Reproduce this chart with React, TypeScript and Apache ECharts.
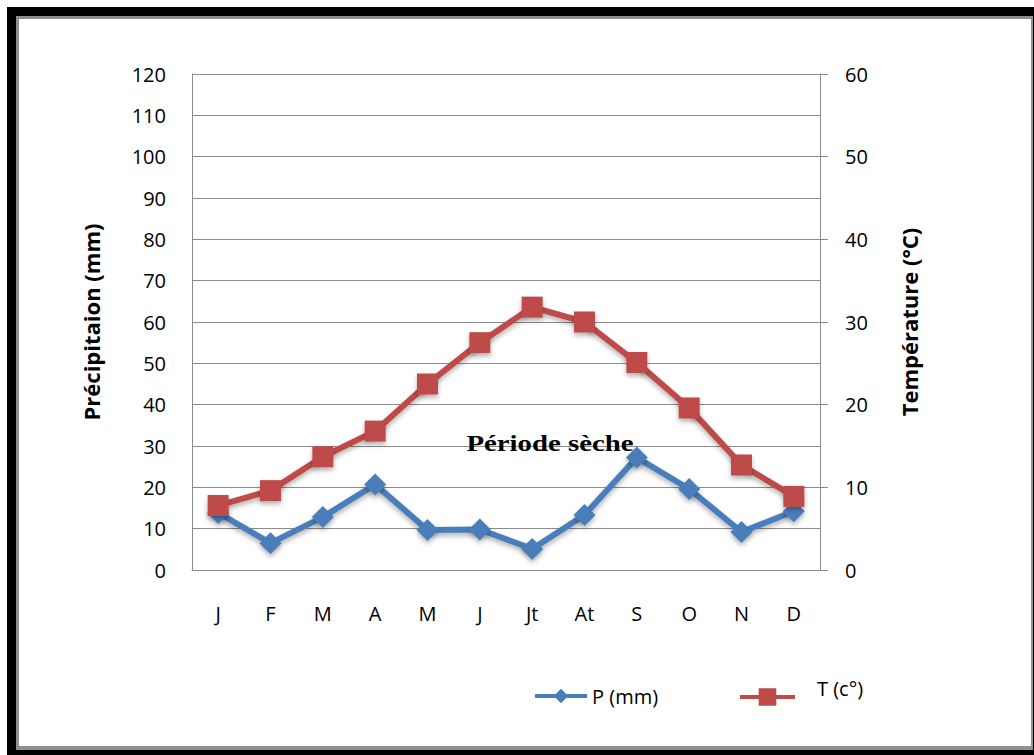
import React, { useEffect, useRef } from "react";
import * as echarts from "echarts";

const months = ["J", "F", "M", "A", "M", "J", "Jt", "At", "S", "O", "N", "D"];
const precipitation = [13.8, 6.5, 12.8, 20.7, 9.7, 9.8, 5.1, 13.3, 27.2, 19.6, 9.2, 14.2];
const temperature = [7.8, 9.6, 13.7, 16.8, 22.5, 27.5, 31.8, 30.0, 25.1, 19.6, 12.7, 8.9];
const leftTicks = { min: 0, max: 120, interval: 10 };
const rightTicks = { min: 0, max: 60, interval: 10 };

const BLUE = "#4a7ebb";
const RED = "#be4b48";
const GRID = "#8c8c8c";
const SANS = "'Open Sans', 'DejaVu Sans', sans-serif";

export default function App() {
  const ref = useRef<HTMLDivElement>(null);
  useEffect(() => {
    document.body.style.margin = "0";
    const chart = echarts.init(ref.current!, null, { renderer: "svg" });
    chart.setOption({
      animation: false,
      backgroundColor: "#ffffff",
      textStyle: { fontFamily: SANS },
      grid: { left: 192, top: 74, right: 214, bottom: 185, containLabel: false },
      graphic: [
        { type: "rect", z: -100, shape: { x: 7, y: 7, width: 1100, height: 1100 }, style: { fill: "#000" } },
        { type: "rect", z: -99, shape: { x: 16, y: 16, width: 1017, height: 734 }, style: { fill: "#8f8f8f" } },
        { type: "rect", z: -98, shape: { x: 19, y: 19, width: 1012, height: 727 }, style: { fill: "#fff" } },
        {
          type: "text",
          z: 10,
          x: 550,
          y: 443,
          scaleX: 1.2,
          style: {
            text: "Période sèche",
            font: "bold 24px 'Liberation Serif', 'Times New Roman', serif",
            fill: "#000",
            align: "center",
            verticalAlign: "middle",
          },
        },
      ],
      legend: [
        {
          data: ["P (mm)"],
          left: 533,
          top: 686,
          itemWidth: 52,
          itemHeight: 18,
          padding: 0,
          lineStyle: { width: 4 },
          textStyle: { fontFamily: SANS, fontSize: 20, color: "#000" },
        },
        {
          data: ["T (c°)"],
          left: 738,
          top: 678,
          itemWidth: 55,
          itemHeight: 22,
          padding: 0,
          lineStyle: { width: 4 },
          formatter: "{t|{name}}",
          textStyle: {
            fontFamily: SANS,
            fontSize: 20,
            color: "#000",
            rich: { t: { fontFamily: SANS, fontSize: 20, color: "#000", padding: [0, 0, 18, 17] } },
          },
        },
      ],
      xAxis: {
        type: "category",
        data: months,
        boundaryGap: true,
        axisLine: { show: true, lineStyle: { color: GRID, width: 1 } },
        axisTick: { show: false },
        axisLabel: { fontSize: 20, color: "#000", margin: 33, fontFamily: SANS },
        splitLine: { show: false },
      },
      yAxis: [
        {
          type: "value",
          position: "left",
          ...leftTicks,
          name: "Précipitaion (mm)",
          nameLocation: "middle",
          nameRotate: 90,
          nameGap: 90,
          nameTextStyle: { fontSize: 22, fontWeight: "bold", color: "#000", fontFamily: SANS },
          axisLine: { show: true, lineStyle: { color: GRID, width: 1 } },
          axisTick: { show: false },
          axisLabel: { fontSize: 20, color: "#000", margin: 26, fontFamily: SANS },
          splitLine: { show: true, lineStyle: { color: GRID, width: 1 } },
        },
        {
          type: "value",
          position: "right",
          ...rightTicks,
          name: "Température (°C)",
          nameLocation: "middle",
          nameRotate: 90,
          nameGap: 78,
          nameTextStyle: { fontSize: 22, fontWeight: "bold", color: "#000", fontFamily: SANS },
          axisLine: { show: true, lineStyle: { color: GRID, width: 1 } },
          axisTick: { show: true, length: 8, inside: false, lineStyle: { color: GRID } },
          axisLabel: { fontSize: 20, color: "#000", margin: 25, fontFamily: SANS },
          splitLine: { show: false },
        },
      ],
      series: [
        {
          name: "P (mm)",
          type: "line",
          yAxisIndex: 0,
          data: precipitation,
          symbol: "diamond",
          symbolSize: 22,
          lineStyle: { color: BLUE, width: 6, shadowBlur: 5, shadowColor: "rgba(0,0,0,0.3)", shadowOffsetY: 3 },
          itemStyle: { color: BLUE, shadowBlur: 5, shadowColor: "rgba(0,0,0,0.3)", shadowOffsetY: 3 },
          z: 3,
        },
        {
          name: "T (c°)",
          type: "line",
          yAxisIndex: 1,
          data: temperature,
          symbol: "rect",
          symbolSize: 21,
          lineStyle: { color: RED, width: 6, shadowBlur: 5, shadowColor: "rgba(0,0,0,0.3)", shadowOffsetY: 3 },
          itemStyle: { color: RED, shadowBlur: 5, shadowColor: "rgba(0,0,0,0.3)", shadowOffsetY: 3 },
          z: 4,
        },
      ],
    });
    return () => chart.dispose();
  }, []);
  return <div ref={ref} style={{ position: "absolute", left: 0, top: 0, width: 1034, height: 755 }} />;
}
